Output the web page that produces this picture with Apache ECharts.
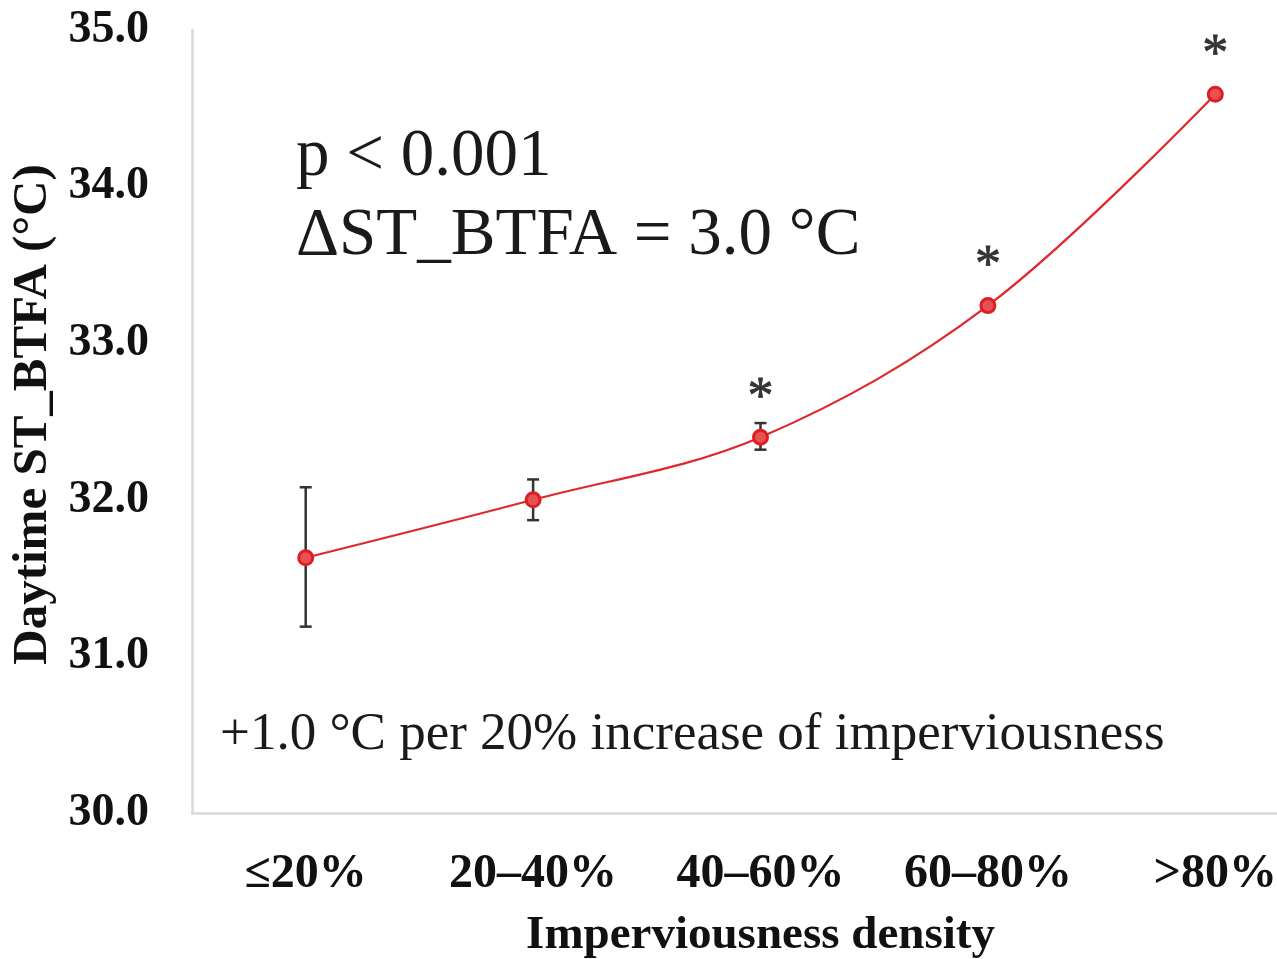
<!DOCTYPE html>
<html>
<head>
<meta charset="utf-8">
<title>Daytime ST_BTFA by imperviousness density</title>
<script src="https://cdn.jsdelivr.net/npm/echarts@6/dist/echarts.min.js"></script>
<style>
  html, body { margin: 0; padding: 0; background: #ffffff; overflow: hidden; }
  #chart { width: 1277px; height: 959px; }
</style>
</head>
<body>
<div id="chart"></div>
<script>
// Imperviousness classes and mean daytime surface temperature (°C)
const categories = ['≤20%', '20–40%', '40–60%', '60–80%', '>80%'];
const means = [31.63, 32.00, 32.40, 33.24, 34.59];
// Error bar limits
const errLow = [31.19, 31.87, 32.32, 33.22, 34.57];
const errHigh = [32.08, 32.13, 32.49, 33.26, 34.61];
// Classes marked as significantly different
const significant = [false, false, true, true, true];
// Y axis range
const yMin = 30, yMax = 35, yStep = 1;

const serif = "'Liberation Serif', 'Times New Roman', serif";
const axisGrey = '#d9d9d9';
const red = '#e0282c';

const chart = echarts.init(document.getElementById('chart'), null, { renderer: 'canvas' });

const option = {
  animation: false,
  backgroundColor: '#ffffff',
  // the plot runs past the right edge of the canvas, so the last band is cut off
  grid: { left: 192, right: -52, top: 30, bottom: 146, outerBoundsMode: 'none', containLabel: false },
  xAxis: {
    type: 'category',
    data: categories,
    boundaryGap: true,
    axisLine: { show: true, lineStyle: { color: axisGrey, width: 2.5 } },
    axisTick: { show: false },
    axisLabel: { interval: 0, hideOverlap: false, margin: 38, fontSize: 48, fontWeight: 'bold', color: '#111', fontFamily: serif },
    name: 'Imperviousness density',
    nameLocation: 'middle',
    nameGap: 99,
    nameTextStyle: { fontSize: 47, fontWeight: 'bold', color: '#111', fontFamily: serif }
  },
  yAxis: {
    type: 'value',
    min: yMin,
    max: yMax,
    interval: yStep,
    axisLine: { show: true, lineStyle: { color: axisGrey, width: 2.5 } },
    axisTick: { show: false },
    splitLine: { show: false },
    axisLabel: {
      margin: 43, fontSize: 46, fontWeight: 'bold', color: '#111', fontFamily: serif,
      formatter: v => v.toFixed(1)
    },
    name: 'Daytime ST_BTFA (°C)',
    nameLocation: 'middle',
    nameGap: 124,
    nameRotate: 90,
    nameTextStyle: { fontSize: 49, fontWeight: 'bold', color: '#111', fontFamily: serif, padding: [0, 0, 0, 14] }
  },
  series: [
    {
      // vertical error bars with caps
      type: 'custom',
      name: 'error',
      z: 1,
      data: categories.map((c, i) => [i, errLow[i], errHigh[i]]),
      renderItem: function (params, api) {
        const i = api.value(0);
        const lo = api.coord([i, api.value(1)]);
        const hi = api.coord([i, api.value(2)]);
        const cap = 6;
        const style = { stroke: '#333333', lineWidth: 2.5 };
        return {
          type: 'group',
          children: [
            { type: 'line', shape: { x1: lo[0], y1: lo[1], x2: hi[0], y2: hi[1] }, style },
            { type: 'line', shape: { x1: hi[0] - cap, y1: hi[1], x2: hi[0] + cap, y2: hi[1] }, style },
            { type: 'line', shape: { x1: lo[0] - cap, y1: lo[1], x2: lo[0] + cap, y2: lo[1] }, style }
          ]
        };
      }
    },
    {
      type: 'line',
      name: 'mean',
      z: 3,
      data: means,
      smooth: 0.35,
      symbol: 'circle',
      symbolSize: 14,
      lineStyle: { color: red, width: 2.2 },
      itemStyle: { color: '#e65252', borderColor: '#dc1f24', borderWidth: 3 }
    },
    {
      // significance asterisks above the marked classes
      type: 'custom',
      name: 'significance',
      z: 4,
      data: categories.map((c, i) => [i, means[i], significant[i] ? 1 : 0]),
      renderItem: function (params, api) {
        if (!api.value(2)) return null;
        const p = api.coord([api.value(0), api.value(1)]);
        return {
          type: 'text',
          style: {
            text: '*', x: p[0], y: p[1] - 38,
            align: 'center', verticalAlign: 'middle',
            font: '52px ' + serif, fill: '#333333',
            stroke: '#333333', lineWidth: 0.8
          }
        };
      }
    }
  ],
  graphic: [
    {
      type: 'text', left: 296, top: 124,
      style: { text: 'p < 0.001', font: '67px ' + serif, fill: '#1a1a1a' }
    },
    {
      type: 'text', left: 296, top: 203,
      style: { text: 'ΔST_BTFA = 3.0 °C', font: '67px ' + serif, fill: '#1a1a1a' }
    },
    {
      type: 'text', left: 220, top: 709,
      style: { text: '+1.0 °C per 20% increase of imperviousness', font: '53px ' + serif, fill: '#1a1a1a' }
    }
  ]
};

chart.setOption(option);
</script>
</body>
</html>
